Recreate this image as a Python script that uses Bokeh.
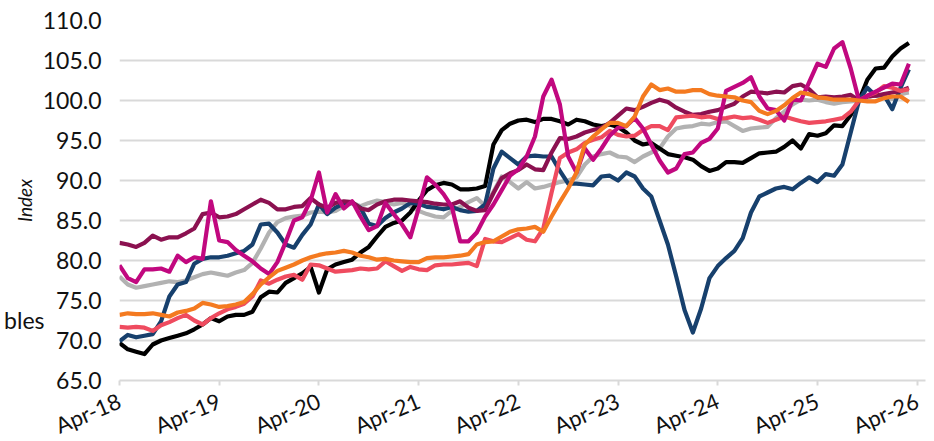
import math
from bokeh.plotting import figure
from bokeh.models import FixedTicker, LinearAxis, PrintfTickFormatter, Range1d
from bokeh.embed import file_html
from bokeh.resources import INLINE

# ---- data (monthly index, Apr-18 = 0) ----
tick_pos = [0, 12, 24, 36, 48, 60, 72, 84, 96]
tick_labels = ["Apr-18", "Apr-19", "Apr-20", "Apr-21", "Apr-22",
               "Apr-23", "Apr-24", "Apr-25", "Apr-26"]
y_ticks = [65, 70, 75, 80, 85, 90, 95, 100, 105, 110]
legend_fragment = "bles"
legend_fragment_y = 72.6

s_black = [69.7, 68.9, 68.6, 68.3, 69.5, 70.0, 70.3, 70.6, 70.9, 71.4, 72.0, 72.8,
           72.4, 73.0, 73.2, 73.2, 73.6, 75.4, 76.1, 76.0, 77.2, 77.8, 78.4, 79.2,
           76.0, 78.9, 79.5, 79.8, 80.1, 81.0, 81.7, 83.0, 84.2, 84.7, 85.0, 86.0,
           87.5, 88.8, 89.4, 89.7, 89.5, 88.9, 88.9, 89.0, 89.3, 94.5, 96.3, 97.1,
           97.5, 97.6, 97.3, 97.7, 97.7, 97.4, 97.0, 97.6, 97.4, 97.0, 96.8, 97.0,
           96.7, 96.0, 95.0, 94.5, 94.7, 94.0, 93.3, 93.1, 92.9, 92.6, 91.8, 91.2,
           91.5, 92.3, 92.3, 92.2, 92.8, 93.4, 93.5, 93.6, 94.2, 95.0, 94.0, 95.8,
           95.6, 95.9, 96.9, 96.8, 98.2, 100.0, 102.6, 104.0, 104.1, 105.5, 106.5, 107.2]

s_navy = [69.9, 70.7, 70.4, 70.6, 70.8, 72.4, 75.5, 77.0, 77.3, 79.6, 80.2, 80.4,
          80.4, 80.6, 80.9, 81.2, 82.0, 84.5, 84.6, 83.5, 82.0, 81.6, 83.2, 84.5,
          87.0, 85.8, 86.6, 87.1, 87.2, 86.6, 84.6, 84.3, 85.3, 86.0, 86.5, 87.2,
          87.1, 86.7, 86.6, 86.4, 86.7, 86.3, 86.1, 86.2, 87.0, 91.5, 93.6, 92.8,
          92.0, 93.0, 93.1, 93.0, 93.0, 91.2, 89.6, 89.6, 89.5, 89.4, 90.5, 90.6,
          90.0, 91.0, 90.5, 89.0, 88.0, 85.0, 82.0, 78.0, 73.8, 71.0, 74.0, 77.8,
          79.3, 80.3, 81.2, 82.8, 86.0, 88.0, 88.5, 89.0, 89.2, 88.9, 89.7, 90.4,
          89.8, 90.8, 90.6, 92.0, 96.0, 100.0, 101.6, 100.6, 100.7, 98.9, 101.6, 103.9]

s_grey = [78.0, 77.0, 76.6, 76.8, 77.0, 77.2, 77.4, 77.3, 77.5, 77.9, 78.3, 78.5,
          78.3, 78.1, 78.5, 78.8, 79.7, 81.5, 83.5, 84.8, 85.3, 85.5, 85.6, 86.0,
          86.1, 86.0, 86.2, 86.8, 87.2, 86.8, 87.2, 87.5, 87.3, 87.0, 87.2, 86.8,
          86.2, 85.8, 85.5, 85.4, 86.2, 86.7, 87.3, 87.8, 86.8, 88.6, 90.5, 89.8,
          89.0, 89.8, 89.0, 89.2, 89.5, 89.8, 90.0, 90.4, 92.0, 93.0, 93.3, 93.5,
          93.0, 92.9, 92.3, 93.0, 93.5, 94.0, 95.5, 96.5, 96.7, 96.8, 97.1, 97.0,
          97.3, 97.4, 96.8, 96.2, 96.5, 96.6, 96.7, 97.8, 98.6, 99.5, 100.1, 100.0,
          100.1, 99.8, 99.6, 99.8, 99.9, 100.0, 100.3, 100.8, 100.5, 100.2, 100.8, 101.0]

s_orange = [73.2, 73.4, 73.3, 73.3, 73.4, 73.2, 73.0, 73.5, 73.7, 74.0, 74.7, 74.5,
            74.2, 74.3, 74.5, 74.8, 75.8, 77.0, 77.9, 78.7, 79.1, 79.5, 80.0, 80.4,
            80.7, 80.9, 81.0, 81.2, 81.0, 80.6, 80.4, 80.1, 80.2, 80.0, 79.9, 79.8,
            79.8, 80.3, 80.4, 80.4, 80.5, 80.6, 80.8, 82.0, 82.3, 82.4, 83.0, 83.6,
            83.9, 84.0, 84.2, 83.6, 85.5, 87.3, 89.0, 91.0, 94.5, 95.5, 96.4, 97.2,
            97.2, 96.8, 98.0, 100.5, 102.0, 101.3, 101.5, 101.1, 101.1, 101.3, 101.3, 100.8,
            100.6, 100.5, 100.4, 100.0, 99.8, 98.7, 98.3, 98.7, 99.4, 100.3, 101.0, 100.8,
            100.4, 100.3, 100.1, 100.1, 100.1, 100.0, 99.9, 99.9, 100.3, 100.5, 100.5, 99.8]

s_red = [71.7, 71.6, 71.7, 71.6, 71.2, 71.9, 72.3, 72.8, 73.2, 72.5, 72.0, 72.8,
         73.4, 73.9, 74.2, 74.6, 75.5, 77.5, 77.1, 77.6, 78.0, 78.2, 77.6, 79.5,
         79.4, 79.0, 78.6, 78.7, 78.8, 79.0, 78.9, 79.0, 79.9, 79.3, 78.7, 79.2,
         78.9, 78.8, 79.4, 79.5, 79.5, 79.6, 79.7, 79.3, 82.7, 82.4, 82.3, 82.8,
         83.3, 82.6, 82.4, 84.0, 88.5, 92.8, 93.5, 93.9, 94.7, 95.1, 95.4, 96.2,
         95.7, 95.5, 95.6, 96.3, 96.8, 96.8, 96.3, 97.9, 98.0, 98.1, 97.9, 98.0,
         97.7, 97.8, 98.0, 97.8, 97.9, 97.6, 97.2, 97.6, 98.0, 97.7, 97.4, 97.2,
         97.3, 97.4, 97.6, 97.8, 98.6, 100.0, 100.6, 101.0, 101.8, 101.6, 101.2, 101.4]

s_magenta = [79.4, 77.8, 77.3, 78.9, 78.9, 79.0, 78.6, 80.6, 79.8, 80.4, 80.2, 87.4,
             82.5, 82.3, 81.3, 80.6, 79.9, 79.0, 78.3, 79.8, 82.3, 85.0, 85.4, 87.5,
             91.0, 86.0, 88.3, 86.5, 87.4, 85.5, 83.8, 84.3, 87.2, 85.8, 84.5, 82.9,
             86.5, 90.4, 89.5, 88.3, 86.7, 82.4, 82.4, 83.5, 85.5, 87.0, 88.8, 90.6,
             91.4, 93.0, 95.5, 100.5, 102.6, 99.5, 93.0, 91.0, 94.0, 92.6, 94.0, 95.6,
             96.6, 96.8, 97.8, 96.5, 94.5, 92.5, 91.0, 91.5, 93.3, 93.5, 94.7, 95.2,
             96.5, 101.2, 101.7, 102.2, 102.9, 100.5, 99.0, 98.8, 97.5, 100.1, 100.0, 102.3,
             104.6, 104.2, 106.5, 107.3, 104.0, 100.0, 100.6, 101.1, 101.6, 102.1, 102.0, 104.6]

s_maroon = [82.2, 82.0, 81.7, 82.2, 83.1, 82.6, 82.9, 82.9, 83.4, 84.0, 85.8, 86.0,
            85.4, 85.5, 85.8, 86.4, 87.0, 87.6, 87.2, 86.4, 86.4, 86.7, 86.8, 87.8,
            87.0, 86.6, 87.2, 87.4, 87.3, 86.5, 86.3, 87.0, 87.4, 87.6, 87.6, 87.5,
            87.4, 87.3, 87.1, 87.0, 87.0, 87.4, 86.6, 86.2, 86.3, 88.4, 90.3, 90.9,
            91.3, 92.0, 91.4, 91.3, 93.5, 95.3, 95.2, 95.5, 96.0, 96.3, 96.6, 97.2,
            98.1, 99.0, 98.8, 99.2, 99.7, 100.1, 99.8, 99.1, 98.6, 98.2, 98.3, 98.6,
            98.8, 99.2, 99.6, 100.5, 101.1, 101.0, 100.9, 101.1, 101.0, 101.8, 102.0, 101.4,
            100.4, 100.5, 100.4, 100.5, 100.7, 100.0, 100.5, 100.6, 100.8, 101.0, 101.2, 101.6]

months = list(range(len(s_black)))

series = [
    (s_grey, "#B2B2B2"),
    (s_black, "#000000"),
    (s_navy, "#17406D"),
    (s_maroon, "#8B1150"),
    (s_red, "#EF4B5F"),
    (s_magenta, "#C1087F"),
    (s_orange, "#F47A20"),
]

FONT = "Lato"
TXT = "#111111"

p = figure(frame_width=806, frame_height=360,
           min_border_left=119, min_border_top=20, min_border_right=1, min_border_bottom=40,
           x_range=Range1d(0, 97), y_range=Range1d(65, 110),
           output_backend="svg", toolbar_location=None)
p.outline_line_color = None
p.background_fill_color = "white"
p.border_fill_color = "white"

for ys, col in series:
    p.line(months, ys, line_color=col, line_width=4.2, line_join="round")

# y axis
p.yaxis.ticker = FixedTicker(ticks=y_ticks)
p.yaxis.formatter = PrintfTickFormatter(format="%.1f")
p.yaxis.axis_line_color = None
p.yaxis.major_tick_line_color = None
p.yaxis.minor_tick_line_color = None
p.yaxis.major_tick_out = 0
p.yaxis.major_tick_in = 0
p.yaxis.major_label_standoff = 18
p.yaxis.major_label_text_font = FONT
p.yaxis.major_label_text_font_size = "23px"
p.yaxis.major_label_text_color = TXT
p.yaxis.axis_label = "Index"
p.yaxis.axis_label_text_font = FONT
p.yaxis.axis_label_text_font_style = "italic"
p.yaxis.axis_label_text_font_size = "19px"
p.yaxis.axis_label_text_color = TXT
p.yaxis.axis_label_standoff = 4

# outer left axis carrying only the clipped legend fragment
frag_axis = LinearAxis(ticker=FixedTicker(ticks=[legend_fragment_y]),
                       major_label_overrides={legend_fragment_y: legend_fragment})
frag_axis.axis_line_color = None
frag_axis.major_tick_line_color = None
frag_axis.minor_tick_line_color = None
frag_axis.major_tick_out = 0
frag_axis.major_tick_in = 0
frag_axis.major_label_standoff = -35
frag_axis.major_label_text_font = FONT
frag_axis.major_label_text_font_size = "23px"
frag_axis.major_label_text_color = TXT
p.add_layout(frag_axis, "left")

# x axis
p.xaxis.ticker = FixedTicker(ticks=tick_pos)
p.xaxis.major_label_overrides = {t: l for t, l in zip(tick_pos, tick_labels)}
p.xaxis.axis_line_color = "#D9D9D9"
p.xaxis.axis_line_width = 2
p.xaxis.major_tick_line_color = "#D9D9D9"
p.xaxis.major_tick_line_width = 2
p.xaxis.major_tick_out = 5
p.xaxis.major_tick_in = 0
p.xaxis.minor_tick_line_color = None
p.xaxis.major_label_orientation = 0.40
p.xaxis.major_label_standoff = 14
p.xaxis.major_label_text_font = FONT
p.xaxis.major_label_text_font_size = "22px"
p.xaxis.major_label_text_color = TXT

p.xgrid.grid_line_color = None
p.ygrid.grid_line_color = "#D9D9D9"
p.ygrid.grid_line_width = 2

open("out.html", "w").write(file_html(p, INLINE))
